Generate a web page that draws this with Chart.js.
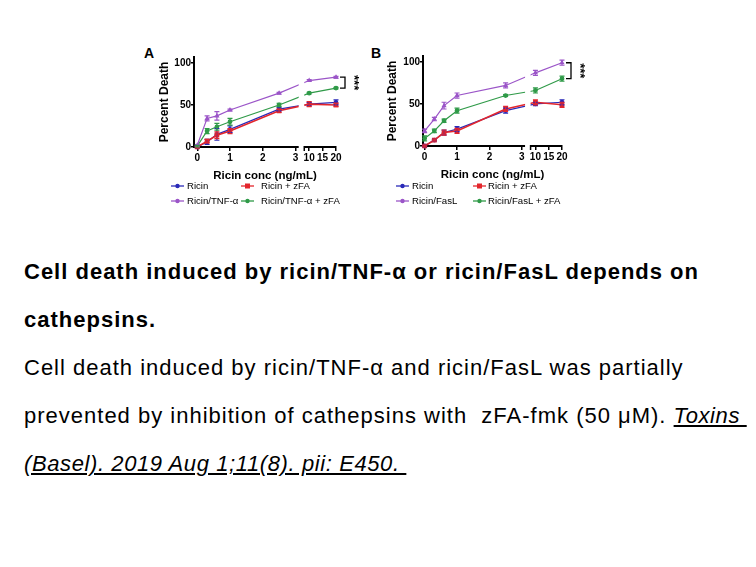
<!DOCTYPE html>
<html>
<head>
<meta charset="utf-8">
<script src="https://cdn.jsdelivr.net/npm/chart.js@4.4.0/dist/chart.umd.min.js"></script>
<style>
  body { margin: 0; background: #fff; font-family: "Liberation Sans", Arial, sans-serif; }
  #page { position: relative; width: 756px; height: 567px; overflow: hidden; }
  canvas { position: absolute; }
  .panel { position: absolute; font-weight: bold; font-size: 14px; line-height: 16px; color: #000; }
  .leg { position: absolute; font-size: 9.6px; color: #000; white-space: nowrap; line-height: 12px; }
  .leg svg { position: absolute; }
  .cap { position: absolute; left: 24px; font-size: 22px; letter-spacing: 1px; line-height: 48px; color: #000; white-space: pre; }
  .cap.b { font-weight: bold; }
  .ref { font-style: italic; text-decoration: underline; letter-spacing: 0.6px; }
</style>
</head>
<body>
<div id="page">
  <div class="panel" style="left:144px;top:45px;">A</div>
  <div class="panel" style="left:371px;top:45px;">B</div>
  <canvas id="chartA" width="225" height="141" style="left:140px;top:42px;"></canvas>
  <canvas id="chartB" width="225" height="140" style="left:365px;top:42px;"></canvas>
  <div id="legendA"></div>
  <div id="legendB"></div>
  <div class="cap b" style="top:248px;">Cell death induced by ricin/TNF-α or ricin/FasL depends on</div>
  <div class="cap b" style="top:296px;">cathepsins.</div>
  <div class="cap" style="top:344px;">Cell death induced by ricin/TNF-α and ricin/FasL was partially</div>
  <div class="cap" style="top:392px;">prevented by inhibition of cathepsins with  zFA-fmk (50 μM). <span class="ref">Toxins </span></div>
  <div class="cap" style="top:440px;"><span class="ref">(Basel). 2019 Aug 1;11(8). pii: E450. </span></div>
</div>
<script>
// ricin concentrations (ng/mL)
const xValues = [0, 0.3, 0.6, 1, 2.5, 10, 20];
const xTicks = [0, 1, 2, 3, 10, 15, 20];
const yTicks = [0, 50, 100];

const namesA = ["Ricin", "Ricin + zFA", "Ricin/TNF-α", "Ricin/TNF-α + zFA"];
const namesB = ["Ricin", "Ricin + zFA", "Ricin/FasL", "Ricin/FasL + zFA"];

// panel A - percent death
const ricinA = [0, 6, 15, 21, 45, 51, 53];
const ricinZfaA = [0, 7, 14, 19, 43, 51, 50];
const tnfA = [2, 34, 37, 44, 64, 79, 83];
const tnfZfaA = [1, 19, 24, 30, 50, 64, 70];
const ricinErrA = [1, 3, 7, 4, 2, 2, 3];
const ricinZfaErrA = [1, 2, 4, 3, 2, 3, 2];
const tnfErrA = [1, 3, 5, 1, 1, 1, 1];
const tnfZfaErrA = [1, 3, 4, 4, 2, 1, 1];

// panel B - percent death
const ricinB = [0, 7, 16, 20, 42, 50, 52];
const ricinZfaB = [0, 7, 16, 18, 44, 52, 49];
const fasB = [18, 32, 48, 60, 72, 87, 99];
const fasZfaB = [9, 18, 30, 42, 60, 66, 80];
const ricinErrB = [1, 1, 3, 3, 3, 2, 3];
const ricinZfaErrB = [1, 1, 3, 3, 3, 3, 3];
const fasErrB = [2, 2, 4, 3, 3, 3, 3];
const fasZfaErrB = [3, 2, 2, 3, 1, 3, 3];

const colors = ["#2a2ab8", "#e3262c", "#9b55c8", "#2f9a48"];
const pointStyles = ["circle", "rect", "triangle", "circle"];

//segmented x axis: 0-3 linear, then 10-20 squeezed after a break
const pos = (x) => (x <= 3 ? x : 3.42 + (x - 10) * 0.082);
const labelFor = (v) => {
  const t = xTicks.find((x) => Math.abs(pos(x) - v) < 1e-6);
  return t === undefined ? "" : String(t);
};

const tickFont = { family: "Liberation Sans", weight: "bold", size: 10 };

//error bars drawn with the chart scales
const errorBars = {
  id: "errorBars",
  afterDatasetsDraw(chart) {
    const ctx = chart.ctx;
    const y = chart.scales.y;
    chart.data.datasets.forEach((ds, i) => {
      const meta = chart.getDatasetMeta(i);
      ctx.save();
      ctx.strokeStyle = ds.borderColor;
      ctx.lineWidth = 1.2;
      meta.data.forEach((pt, j) => {
        const v = ds.data[j].y;
        const e = ds.errors[j];
        const top = y.getPixelForValue(v + e);
        const bot = y.getPixelForValue(v - e);
        ctx.beginPath();
        ctx.moveTo(pt.x, top); ctx.lineTo(pt.x, bot);
        ctx.moveTo(pt.x - 2.5, top); ctx.lineTo(pt.x + 2.5, top);
        ctx.moveTo(pt.x - 2.5, bot); ctx.lineTo(pt.x + 2.5, bot);
        ctx.stroke();
      });
      ctx.restore();
    });
  },
};

//axis break + significance bracket
const breakAndBracket = {
  id: "breakAndBracket",
  afterDraw(chart) {
    const ctx = chart.ctx;
    const a = chart.chartArea;
    const x = chart.scales.x;
    const y = chart.scales.y;
    const g0 = x.getPixelForValue(3.1);
    const g1 = x.getPixelForValue(3.27);
    ctx.save();
    ctx.fillStyle = "#fff";
    ctx.fillRect(g0, a.top - 2, g1 - g0, a.bottom - a.top + 5);
    ctx.strokeStyle = "#000";
    ctx.lineWidth = 1.5;
    ctx.beginPath();
    ctx.moveTo(g1, a.bottom - 1); ctx.lineTo(g1, a.bottom + 4);
    ctx.stroke();
    // bracket between the two top series at 20 ng/mL
    const d = chart.data.datasets;
    const yTop = y.getPixelForValue(d[2].data[6].y);
    const yBot = y.getPixelForValue(d[3].data[6].y);
    const bx = a.right + 9;
    ctx.lineWidth = 1.3;
    ctx.beginPath();
    ctx.moveTo(bx - 5, yTop); ctx.lineTo(bx, yTop);
    ctx.lineTo(bx, yBot); ctx.lineTo(bx - 5, yBot);
    ctx.stroke();
    ctx.translate(bx + 9, (yTop + yBot) / 2);
    ctx.rotate(Math.PI / 2);
    ctx.fillStyle = "#000";
    ctx.font = "bold 13px 'Liberation Sans'";
    ctx.textAlign = "center";
    ctx.textBaseline = "middle";
    ctx.fillText("***", 0, 0);
    ctx.restore();
  },
};

function makeChart(id, names, series, errs, xMin, pad, yWidth) {
  const datasets = series.map((vals, i) => ({
    label: names[i],
    data: vals.map((v, j) => ({ x: pos(xValues[j]), y: v })),
    errors: errs[i],
    borderColor: colors[i],
    backgroundColor: colors[i],
    borderWidth: i === 1 ? 1.6 : 1.2,
    pointStyle: pointStyles[i],
    pointRadius: i === 1 ? 2.2 : 1.8,
    tension: 0,
    clip: false,
    order: i === 1 ? 0 : 1,
  }));
  return new Chart(document.getElementById(id), {
    type: "line",
    data: { datasets: datasets },
    options: {
      responsive: false,
      animation: false,
      layout: { padding: pad },
      plugins: { legend: { display: false }, tooltip: { enabled: false } },
      scales: {
        x: {
          type: "linear",
          min: xMin,
          max: pos(20),
          afterBuildTicks: (s) => { s.ticks = xTicks.map((t) => ({ value: pos(t) })); },
          afterFit: (s) => { s.height = 36; },
          ticks: { callback: (v) => labelFor(v), autoSkip: false, maxRotation: 0, color: "#000", font: tickFont, padding: 1 },
          grid: { drawOnChartArea: false, color: "#000", tickLength: 4, lineWidth: 1.5 },
          border: { color: "#000", width: 2 },
          title: { display: true, text: "Ricin conc (ng/mL)", color: "#000", font: { family: "Liberation Sans", weight: "bold", size: 11.5 }, padding: { top: 3, bottom: 0 } },
        },
        y: {
          min: 0,
          max: 107,
          afterBuildTicks: (s) => { s.ticks = yTicks.map((t) => ({ value: t })); },
          afterFit: (s) => { s.width = yWidth; },
          ticks: { color: "#000", font: tickFont, padding: 0 },
          grid: { drawOnChartArea: false, color: "#000", tickLength: 3, lineWidth: 1.5 },
          border: { color: "#000", width: 2 },
          title: { display: true, text: "Percent Death", color: "#000", font: { family: "Liberation Sans", weight: "bold", size: 12 }, padding: 0 },
        },
      },
    },
    plugins: [errorBars, breakAndBracket],
  });
}

makeChart("chartA", namesA, [ricinA, ricinZfaA, tnfA, tnfZfaA],
  [ricinErrA, ricinZfaErrA, tnfErrA, tnfZfaErrA], -0.1, { left: 17, right: 29, top: 15, bottom: 0 }, 37);
makeChart("chartB", namesB, [ricinB, ricinZfaB, fasB, fasZfaB],
  [ricinErrB, ricinZfaErrB, fasErrB, fasZfaErrB], -0.05, { left: 20, right: 28, top: 14, bottom: 0 }, 38);

//two-column legends under each panel
function buildLegend(elId, names, cols) {
  const el = document.getElementById(elId);
  const rows = [186, 201];
  names.forEach((name, i) => {
    const c = cols[i % 2];
    const cy = rows[Math.floor(i / 2)];
    const color = colors[i];
    const mark = pointStyles[i] === "rect"
      ? `<rect x="4" y="1.5" width="5" height="5" fill="${color}"/>`
      : `<circle cx="6.5" cy="4" r="2.2" fill="${color}"/>`;
    const item = document.createElement("div");
    item.className = "leg";
    item.style.left = c.mark - 6 + "px";
    item.style.top = cy - 6 + "px";
    item.innerHTML =
      `<svg width="13" height="8" style="left:0;top:2px"><line x1="0" y1="4" x2="13" y2="4" stroke="${color}" stroke-width="1.3"/>${mark}</svg>` +
      `<span style="position:absolute;left:${c.text - c.mark + 6}px;top:0">${name}</span>`;
    el.appendChild(item);
  });
}
buildLegend("legendA", namesA, [{ mark: 177, text: 187 }, { mark: 247, text: 261 }]);
buildLegend("legendB", namesB, [{ mark: 402, text: 412 }, { mark: 479, text: 488 }]);
</script>
</body>
</html>
